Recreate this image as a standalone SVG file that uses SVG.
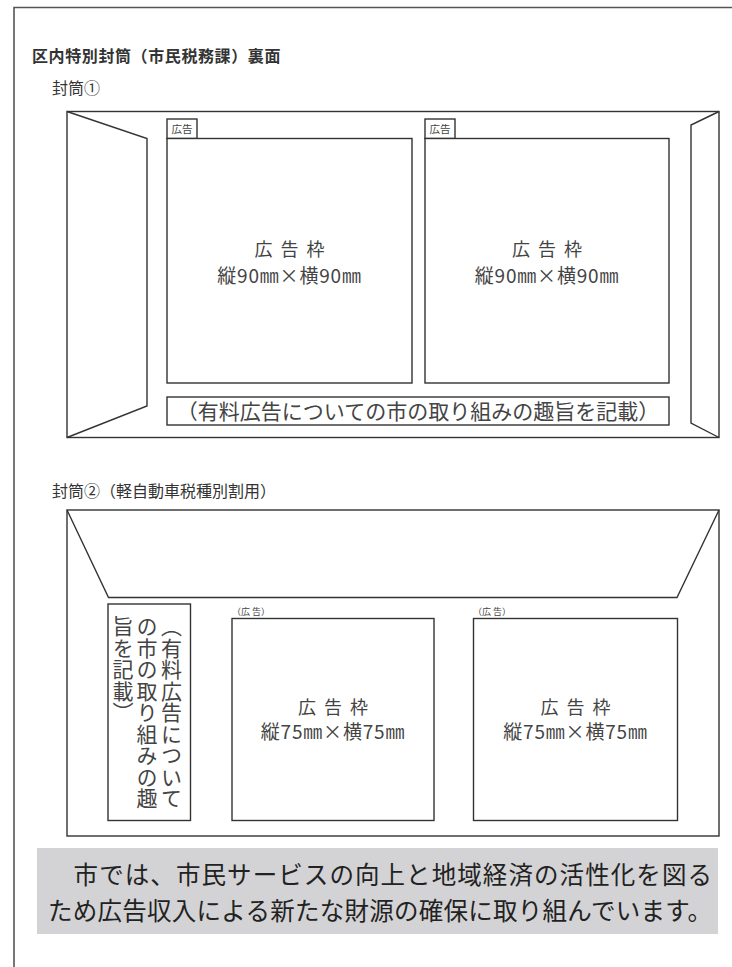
<svg xmlns="http://www.w3.org/2000/svg" width="732" height="967" viewBox="0 0 732 967">
<style>
text{font-family:"Noto Sans CJK JP","Noto Sans",sans-serif;fill:#333}
.ln{fill:none;stroke:#333;stroke-width:1.4;stroke-linejoin:miter}
.box{fill:#fff;stroke:#333;stroke-width:1.4}
.h{font-size:16px}
.ad{font-size:18px;fill:#444;text-anchor:middle}
.sz{font-size:19px;letter-spacing:0.8px}
.lbl{font-size:10.5px;fill:#444}
.vt{font-size:21px;fill:#444;writing-mode:vertical-rl;letter-spacing:0.5px}
.note{font-size:24.5px;fill:#222}
</style>
<rect width="732" height="967" fill="#fff"/>
<g id="page-frame">
<path d="M14,967 V7.5 H732" fill="none" stroke="#555" stroke-width="1.6"/>
</g>
<g id="titles">
<text class="h" x="32" y="62" font-weight="bold" letter-spacing="0.6">区内特別封筒（市民税務課）裏面</text>
<text class="h" x="52" y="94">封筒①</text>
<text class="h" x="52" y="497">封筒②（軽自動車税種別割用）</text>
</g>
<g id="envelope1">
<rect class="box" x="67" y="111.5" width="652" height="326"/>
<path class="ln" d="M67,111.5 L147,138.5 V406 L67,437.5"/>
<path class="ln" d="M719,111.5 L691,125 V423 L719,437.5"/>
</g>
<g id="ad1">
<rect class="box" x="167" y="119" width="30" height="19.5"/>
<text class="lbl" x="182" y="133" text-anchor="middle">広告</text>
<rect class="box" x="167" y="138.5" width="245" height="244.5"/>
<text class="ad" x="289.5" y="256" word-spacing="4">広 告 枠</text>
<text class="ad sz" x="289.5" y="283">縦90㎜×横90㎜</text>
</g>
<g id="ad2">
<rect class="box" x="425" y="119" width="30" height="19.5"/>
<text class="lbl" x="440" y="133" text-anchor="middle">広告</text>
<rect class="box" x="425" y="138.5" width="244" height="244.5"/>
<text class="ad" x="547" y="256" word-spacing="4">広 告 枠</text>
<text class="ad sz" x="547" y="283">縦90㎜×横90㎜</text>
</g>
<g id="note1">
<rect class="box" x="167" y="397" width="502" height="28"/>
<text x="418" y="418.5" text-anchor="middle" style="font-size:21px;fill:#444">（有料広告についての市の取り組みの趣旨を記載）</text>
</g>
<g id="envelope2">
<rect class="box" x="67" y="510" width="652" height="326"/>
<path class="ln" d="M67,510 L108.5,597.5 H677 L719,510"/>
</g>
<g id="note2">
<rect class="box" x="108" y="604" width="82.5" height="216.5"/>
<text class="vt" x="171.5" y="616">（有料広告について</text>
<text class="vt" x="147" y="616">の市の取り組みの趣</text>
<text class="vt" x="123" y="616">旨を記載）</text>
</g>
<g id="ad3">
<text class="lbl" x="232" y="615" style="font-size:9px">（広 告）</text>
<rect class="box" x="232" y="618.5" width="202" height="202"/>
<text class="ad" x="333" y="714" word-spacing="4">広 告 枠</text>
<text class="ad sz" x="333" y="739">縦75㎜×横75㎜</text>
</g>
<g id="ad4">
<text class="lbl" x="473" y="615" style="font-size:9px">（広 告）</text>
<rect class="box" x="473.5" y="618.5" width="204" height="202"/>
<text class="ad" x="575.5" y="714" word-spacing="4">広 告 枠</text>
<text class="ad sz" x="575.5" y="739">縦75㎜×横75㎜</text>
</g>
<g id="notice">
<rect x="37" y="848" width="681" height="86" fill="#d3d3d5"/>
<text class="note" x="48" y="884" xml:space="preserve" textLength="664" lengthAdjust="spacing">　市では、市民サービスの向上と地域経済の活性化を図る</text>
<text class="note" x="48" y="920" textLength="664" lengthAdjust="spacing">ため広告収入による新たな財源の確保に取り組んでいます。</text>
</g>
</svg>
